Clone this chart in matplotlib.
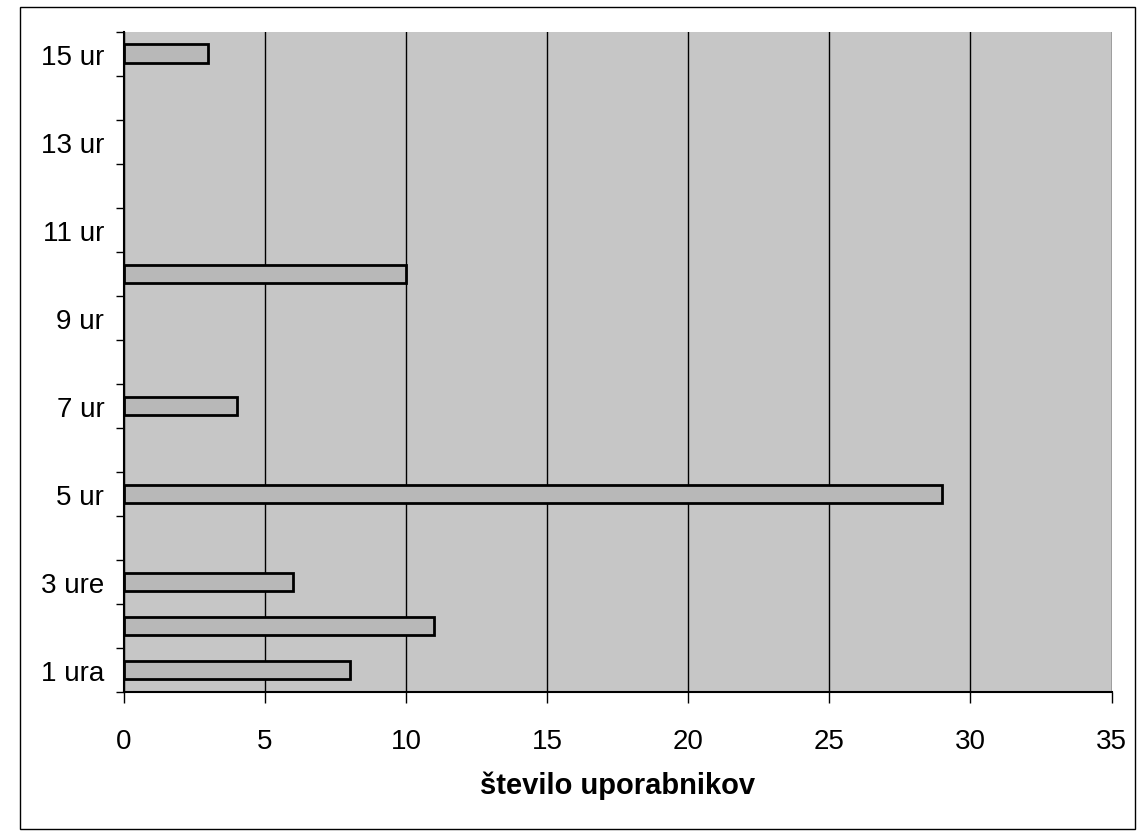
import matplotlib
matplotlib.use("Agg")
from matplotlib import pyplot as plt
from matplotlib.patches import Rectangle
import numpy as np

categories = ["1 ura", "2 uri", "3 ure", "4 ure", "5 ur", "6 ur", "7 ur", "8 ur",
              "9 ur", "10 ur", "11 ur", "12 ur", "13 ur", "14 ur", "15 ur"]
users = [8, 11, 6, 0, 29, 0, 4, 0, 0, 10, 0, 0, 0, 0, 3]
x_ticks = [0, 5, 10, 15, 20, 25, 30, 35]

plt.rcParams["font.family"] = ["Liberation Sans", "DejaVu Sans"]

fig = plt.figure(figsize=(11.46, 8.37), dpi=100)
ax = fig.add_axes([0.108, 0.172, 0.862, 0.789])

pos = np.arange(len(categories))
# empty categories get no outline (Excel draws nothing there)
edges = ["black" if v > 0 else "none" for v in users]
ax.barh(pos, users, height=0.42, color="#b8b8b8", edgecolor=edges, linewidth=2, zorder=3)

ax.set_facecolor("#c6c6c6")
ax.set_xlim(0, 35)
ax.set_ylim(-0.5, len(categories) - 0.5)
ax.set_xticks(x_ticks)
ax.xaxis.grid(True, color="black", linewidth=1)
ax.set_axisbelow(True)

# labels only on every other category, tick marks between categories
ax.set_yticks(pos[::2])
ax.set_yticklabels(categories[::2])
ax.set_yticks(np.arange(-0.5, len(categories), 1), minor=True)
ax.tick_params(axis="y", which="major", length=0, pad=14, labelsize=20)
ax.tick_params(axis="y", which="minor", length=6, width=1)
ax.tick_params(axis="x", length=8, width=1, pad=18, labelsize=20)

for side in ["top", "right"]:
    ax.spines[side].set_visible(False)
ax.spines["left"].set_linewidth(1.5)
ax.spines["bottom"].set_linewidth(1.5)

ax.set_xlabel("število uporabnikov", fontsize=21, fontweight="bold", labelpad=12)

fig.patches.append(Rectangle((20 / 1146, 1 - 830 / 837), 1115 / 1146, 822 / 837,
                             transform=fig.transFigure, fill=False,
                             edgecolor="black", linewidth=1))

fig.savefig("out.png", dpi=100)
plt.close(fig)
